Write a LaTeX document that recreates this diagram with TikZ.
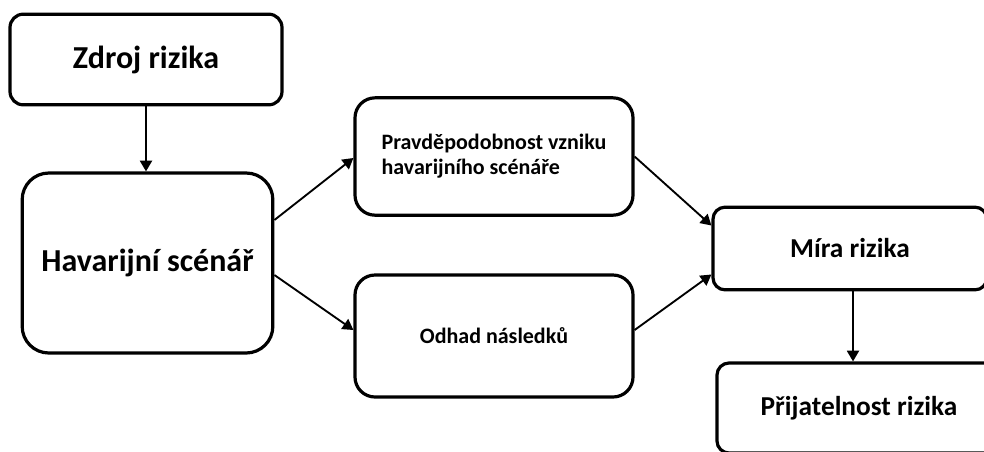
\documentclass[tikz,border=0pt]{standalone}
\usepackage{fontspec}
\setmainfont{Carlito}
\usetikzlibrary{arrows.meta,positioning,calc}
\tikzset{
  box/.style={draw,line width=2.4pt,rounded corners=10pt,align=center,
              font=\bfseries,inner sep=4pt},
  bigtext/.style={font=\bfseries\fontsize{24}{28}\selectfont},
  midtext/.style={font=\bfseries\fontsize{20.5}{24}\selectfont},
  smalltext/.style={font=\bfseries\fontsize{16.5}{18.75}\selectfont},
  arrow/.style={-{Triangle[length=8pt,width=9pt]},line width=1.4pt},
}
\begin{document}
\begin{tikzpicture}[x=0.75pt,y=-0.75pt]
\useasboundingbox (0,0) rectangle (984,451);
\clip (0,0) rectangle (984,451);
\node[box,bigtext,minimum width=204pt,minimum height=68pt] (zdroj) at (146,59.5) {Zdroj rizika};
\node[box,bigtext,rounded corners=20pt,minimum width=188pt,minimum height=135pt] (hav) at (147.5,263) {Havarijní scénář};
\node[box,smalltext,align=left,rounded corners=15pt,minimum width=208.5pt,minimum height=88pt] (prav) at (494,156.5) {Pravděpodobnost vzniku\\havarijního scénáře};
\node[box,smalltext,rounded corners=15pt,minimum width=208.5pt,minimum height=91.5pt] (odhad) at (494,336) {Odhad následků};
\node[box,midtext,rounded corners=9pt,minimum width=205.5pt,minimum height=62pt] (mira) at (850,248.5) {Míra rizika};
\node[box,midtext,rounded corners=9pt,minimum width=213pt,minimum height=67.5pt] (prij) at (859,408) {Přijatelnost rizika};
\coordinate (m) at ($(mira.south)+(3,0)$);
\draw[arrow] (zdroj.south) -- (zdroj.south |- hav.north);
\draw[arrow] ($(hav.east)+(0,-43)$) -- ($(prav.west)+(0,1.5)$);
\draw[arrow] ($(hav.east)+(0,12)$) -- ($(odhad.west)+(0,-6)$);
\draw[arrow] (prav.east) -- ($(mira.west)+(0,-23)$);
\draw[arrow] ($(odhad.east)+(0,-6)$) -- ($(mira.west)+(0,26)$);
\draw[arrow] (m) -- (m |- prij.north);
\end{tikzpicture}
\end{document}
